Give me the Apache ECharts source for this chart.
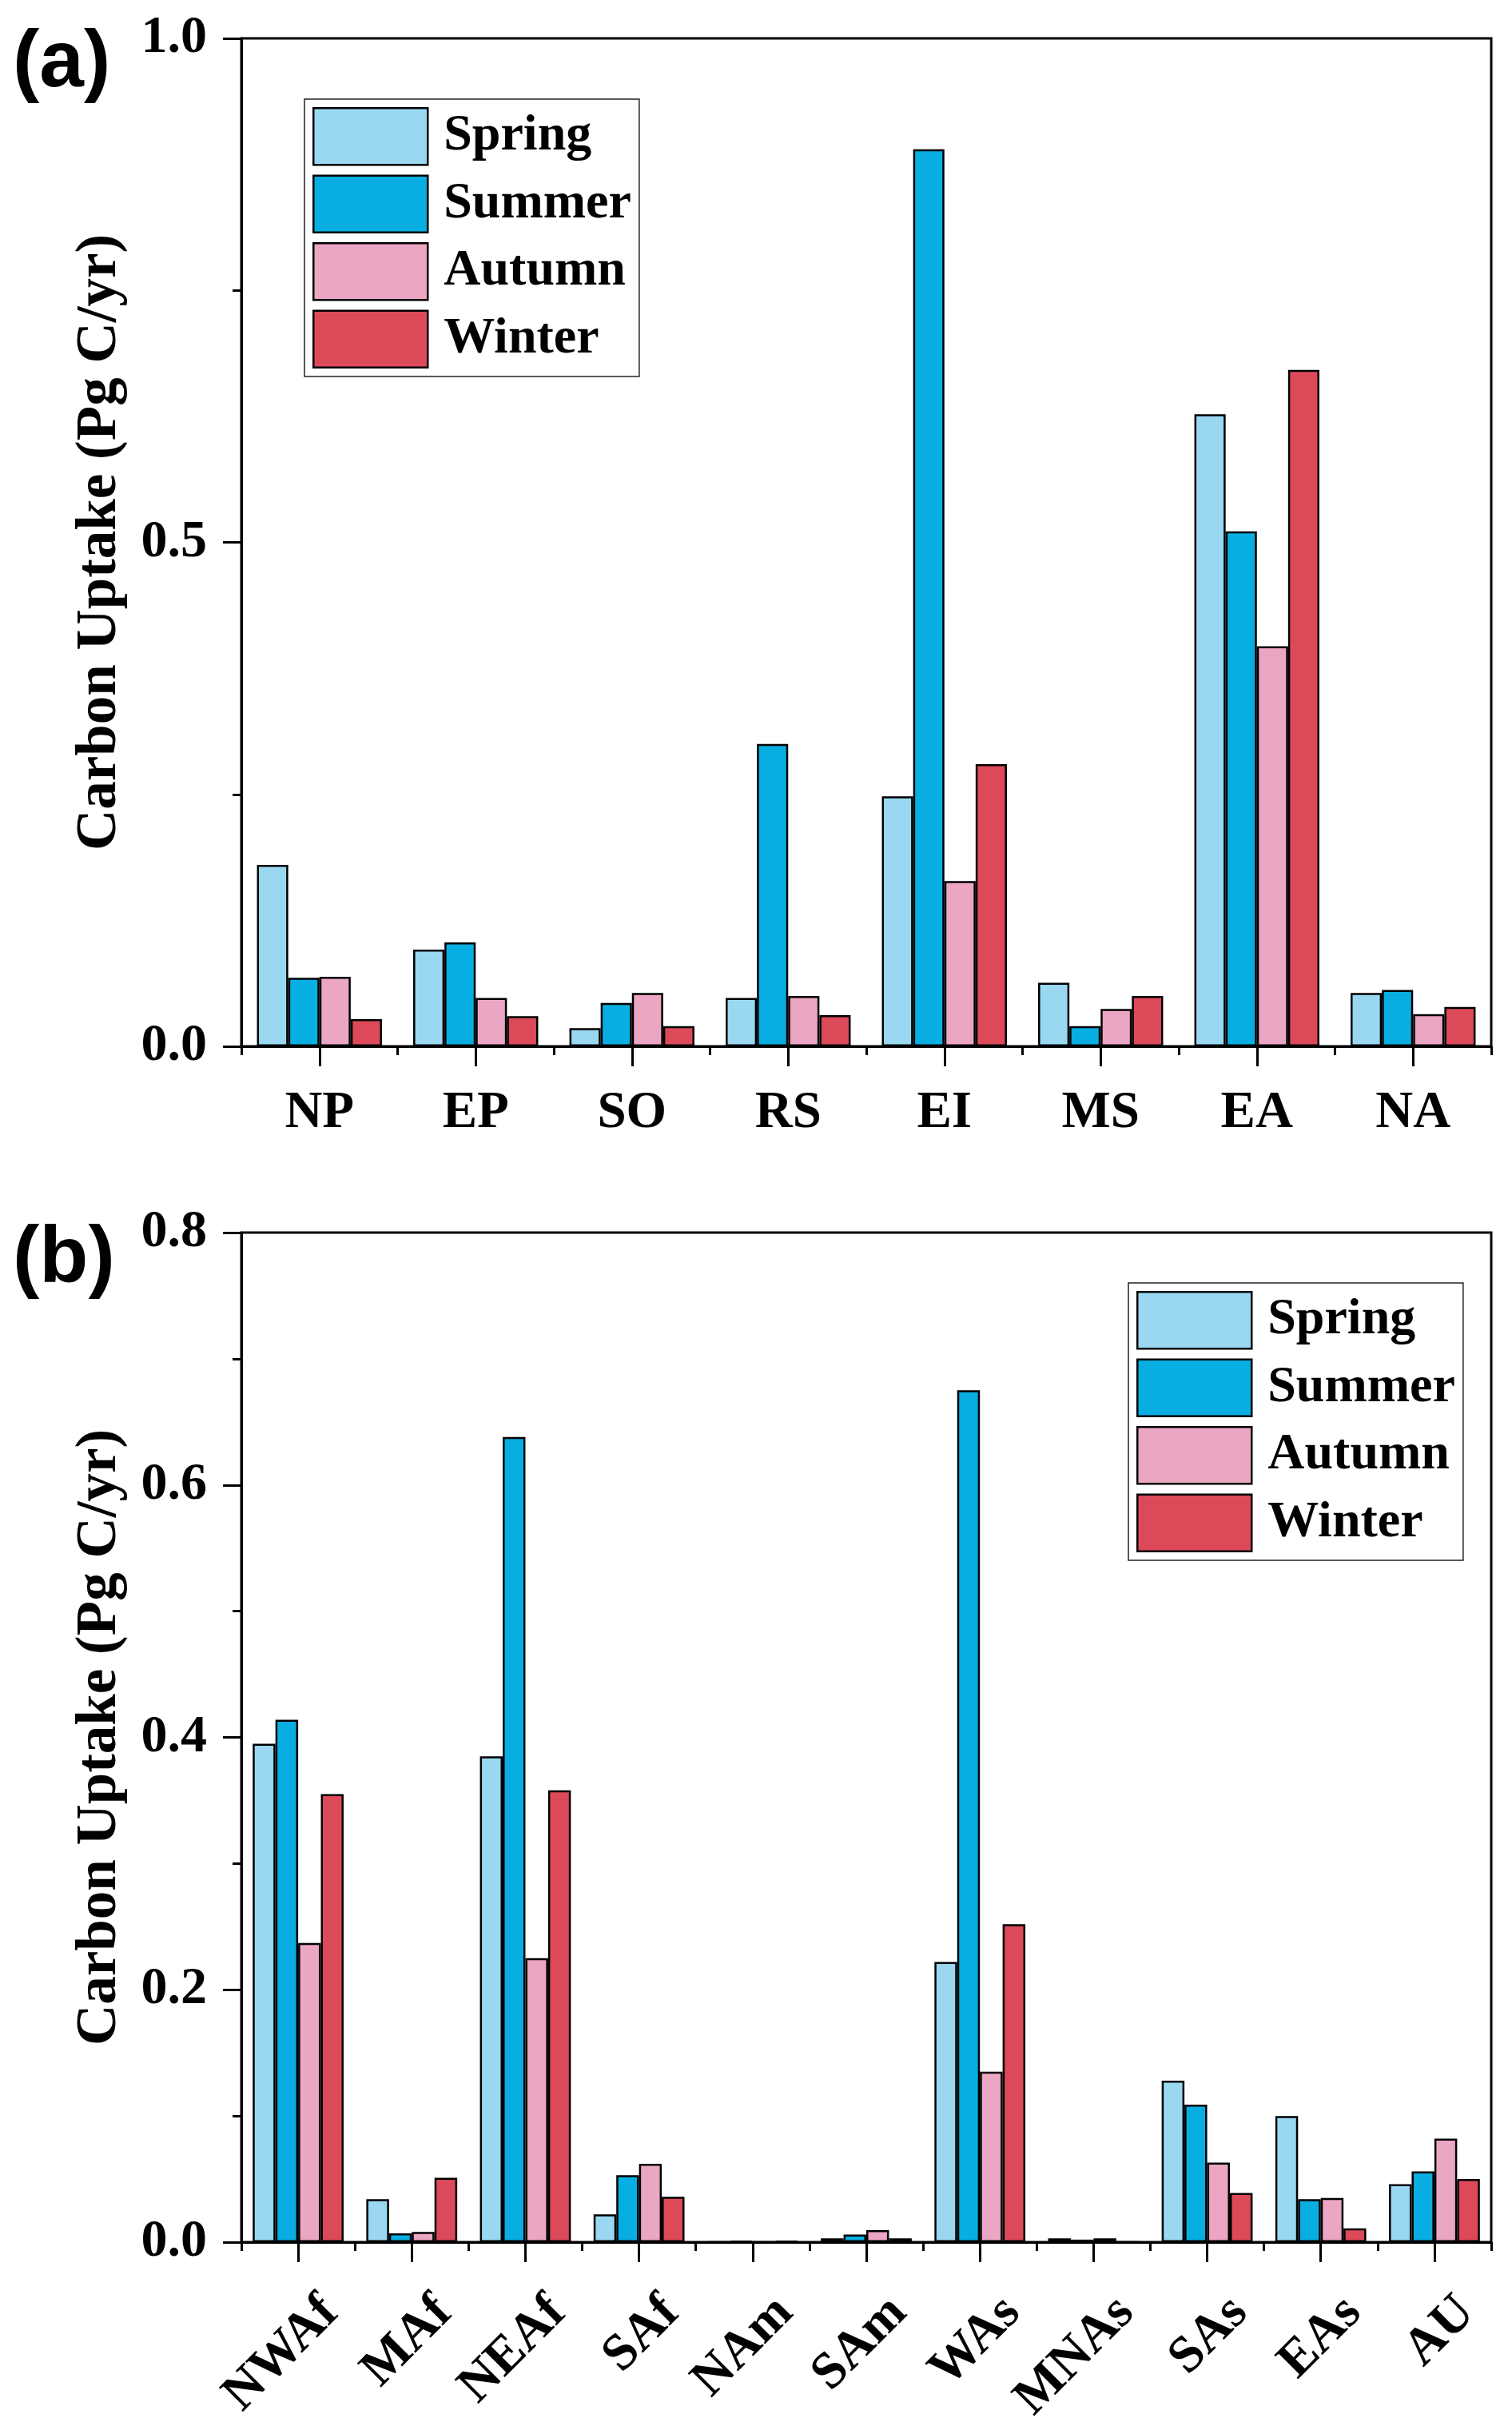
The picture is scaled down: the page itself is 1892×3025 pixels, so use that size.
<!DOCTYPE html>
<html>
<head>
<meta charset="utf-8">
<script src="https://cdn.jsdelivr.net/npm/echarts@6/dist/echarts.min.js"></script>
<style>
html,body{margin:0;padding:0;background:#fff;}
#chart{width:1892px;height:3025px;}
</style>
</head>
<body>
<div id="chart"></div>
<script>
// ---------- data ----------
var seasons = ['Spring', 'Summer', 'Autumn', 'Winter'];
var colors = ['#9AD8F2', '#08AEE2', '#EAA6C2', '#DC4A5A'];

var catsA = ['NP', 'EP', 'SO', 'RS', 'EI', 'MS', 'EA', 'NA'];
var springA = [0.180, 0.096, 0.018, 0.048, 0.248, 0.063, 0.627, 0.053];
var summerA = [0.068, 0.103, 0.043, 0.300, 0.890, 0.020, 0.511, 0.056];
var autumnA = [0.069, 0.048, 0.053, 0.050, 0.164, 0.037, 0.397, 0.032];
var winterA = [0.027, 0.030, 0.020, 0.031, 0.280, 0.050, 0.671, 0.039];

var catsB = ['NWAf', 'MAf', 'NEAf', 'SAf', 'NAm', 'SAm', 'WAs', 'MNAs', 'SAs', 'EAs', 'AU'];
var springB = [0.395, 0.034, 0.385, 0.022, 0.000, 0.003, 0.222, 0.003, 0.128, 0.100, 0.046];
var summerB = [0.414, 0.007, 0.638, 0.053, 0.001, 0.006, 0.675, 0.002, 0.109, 0.034, 0.056];
var autumnB = [0.237, 0.008, 0.225, 0.062, 0.000, 0.0095, 0.135, 0.003, 0.063, 0.035, 0.082];
var winterB = [0.355, 0.051, 0.358, 0.036, 0.001, 0.003, 0.252, 0.000, 0.039, 0.011, 0.050];

var ticksA = [0, 0.5, 1.0];
var ticksB = [0, 0.2, 0.4, 0.6, 0.8];

// ---------- styling ----------
var SERIF = '"Liberation Serif", "Times New Roman", serif';
var SANS = '"Liberation Sans", Arial, sans-serif';
var LW = 3;
var dataA = [springA, summerA, autumnA, winterA];
var dataB = [springB, summerB, autumnB, winterB];

function yAxis(gi, ticks) {
  var step = ticks[1] - ticks[0];
  return {
    type: 'value', gridIndex: gi,
    min: ticks[0], max: ticks[ticks.length - 1], interval: step,
    name: 'Carbon Uptake (Pg C/yr)', nameLocation: 'middle', nameGap: 141,
    nameTextStyle: { fontFamily: SERIF, fontWeight: 'bold', fontSize: 71, color: '#000' },
    axisLine: { show: true, lineStyle: { color: '#000', width: LW } },
    axisTick: { show: true, inside: false, length: 23, lineStyle: { color: '#000', width: LW } },
    minorTick: { show: true, splitNumber: 2, length: 11, lineStyle: { color: '#000', width: LW } },
    splitLine: { show: false },
    axisLabel: {
      margin: 43, fontFamily: SERIF, fontWeight: 'bold', fontSize: 66, color: '#000',
      formatter: function (v) { return v.toFixed(1); }
    }
  };
}

function xMain(gi, cats, rotated) {
  var lab = { interval: 0, fontFamily: SERIF, fontWeight: 'bold', fontSize: 65, color: '#000' };
  if (rotated) {
    lab.rotate = 45; lab.margin = 38; lab.verticalAlign = 'top'; lab.padding = [25, 0, 0, 0];
  } else {
    lab.margin = 52;
  }
  return {
    type: 'category', gridIndex: gi, data: cats, position: 'bottom',
    axisLine: { show: true, lineStyle: { color: '#000', width: LW } },
    axisTick: { show: true, alignWithLabel: true, inside: false, length: 25, interval: 0, lineStyle: { color: '#000', width: LW } },
    splitLine: { show: false },
    axisLabel: lab
  };
}

function xMinor(gi, cats) {
  return {
    type: 'category', gridIndex: gi, data: cats, position: 'bottom', offset: 0,
    axisLine: { show: false },
    axisTick: { show: true, alignWithLabel: false, inside: false, length: 11, interval: 0, lineStyle: { color: '#000', width: LW } },
    axisLabel: { show: false },
    splitLine: { show: false }
  };
}

var series = [];
function addSeries(datas, xi, yi) {
  for (var i = 0; i < 4; i++) {
    series.push({
      type: 'bar', name: seasons[i], xAxisIndex: xi, yAxisIndex: yi,
      data: datas[i], barGap: '0%', barCategoryGap: '20%',
      itemStyle: { color: colors[i], borderColor: '#000', borderWidth: 2.5 },
      emphasis: { disabled: true }, animation: false
    });
  }
}
addSeries(dataA, 0, 0);
addSeries(dataB, 2, 1);

function legend(left, top) {
  return {
    orient: 'vertical', left: left, top: top, icon: 'rect',
    itemWidth: 143, itemHeight: 71, itemGap: 11, padding: 10,
    borderColor: '#222', borderWidth: 1.5, backgroundColor: '#fff',
    selectedMode: false,
    data: seasons,
    itemStyle: { borderColor: '#000', borderWidth: 2.5 },
    textStyle: { fontFamily: SERIF, fontWeight: 'bold', fontSize: 64, color: '#000', padding: [0, 0, 0, 15] }
  };
}

var option = {
  animation: false,
  backgroundColor: '#fff',
  grid: [
    { left: 302, top: 48, width: 1564, height: 1261, show: true, borderColor: '#000', borderWidth: LW, backgroundColor: 'transparent', containLabel: false, outerBoundsMode: 'none' },
    { left: 302, top: 1542, width: 1564, height: 1263, show: true, borderColor: '#000', borderWidth: LW, backgroundColor: 'transparent', containLabel: false, outerBoundsMode: 'none' }
  ],
  xAxis: [xMain(0, catsA, false), xMinor(0, catsA), xMain(1, catsB, true), xMinor(1, catsB)],
  yAxis: [yAxis(0, ticksA), yAxis(1, ticksB)],
  legend: [legend(381, 124), legend(1412, 1605)],
  graphic: [
    { type: 'text', left: 16, top: 30, style: { text: '(a)', fontFamily: SANS, fontWeight: 'bold', fontSize: 100, fill: '#000' } },
    { type: 'text', left: 16, top: 1526, style: { text: '(b)', fontFamily: SANS, fontWeight: 'bold', fontSize: 100, fill: '#000' } }
  ],
  series: series
};

var chart = echarts.init(document.getElementById('chart'), null, { renderer: 'canvas', width: 1892, height: 3025 });
chart.setOption(option);
</script>
</body>
</html>
